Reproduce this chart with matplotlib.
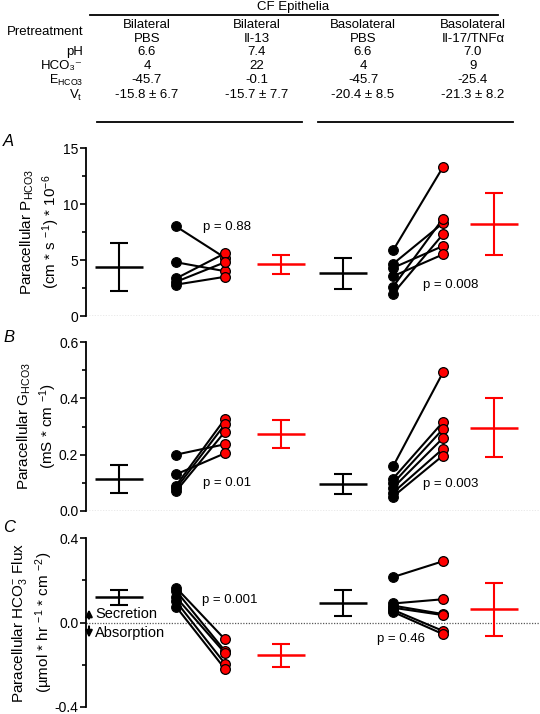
import matplotlib
matplotlib.use("Agg")
import matplotlib.pyplot as plt
from matplotlib.ticker import MultipleLocator

plt.rcParams["font.family"] = ["Liberation Sans", "DejaVu Sans"]
plt.rcParams["mathtext.fontset"] = "custom"
plt.rcParams["mathtext.rm"] = "Liberation Sans"
plt.rcParams["mathtext.it"] = "Liberation Sans:italic"

W, H = 540, 714

# -------------------- data --------------------
conditions = [("Bilateral", "PBS"), ("Bilateral", "Il-13"),
              ("Basolateral", "PBS"), ("Basolateral", "Il-17/TNF\u03b1")]
ph_vals = ["6.6", "7.4", "6.6", "7.0"]
hco3_vals = ["4", "22", "4", "9"]
e_hco3_vals = ["-45.7", "-0.1", "-45.7", "-25.4"]
vt_vals = ["-15.8 \u00b1 6.7", "-15.7 \u00b1 7.7", "-20.4 \u00b1 8.5", "-21.3 \u00b1 8.2"]

# panel A: paracellular P_HCO3
a_means = [4.4, 4.61, 3.81, 8.21]
a_sds = [2.15, 0.86, 1.38, 2.78]
a_pre1 = [8.0, 4.8, 3.35, 3.05, 2.8]
a_post1 = [5.2, 4.0, 5.6, 4.8, 3.5]
a_pre2 = [5.85, 4.65, 4.3, 3.55, 2.6, 2.0]
a_post2 = [13.3, 8.3, 6.25, 5.5, 8.7, 7.3]
a_pvals = ["p = 0.88", "p = 0.008"]

# panel B: paracellular G_HCO3
b_means = [0.114, 0.273, 0.096, 0.295]
b_sds = [0.05, 0.049, 0.037, 0.105]
b_pre1 = [0.2, 0.13, 0.09, 0.08, 0.07]
b_post1 = [0.237, 0.205, 0.327, 0.308, 0.282]
b_pre2 = [0.158, 0.115, 0.098, 0.082, 0.065, 0.051]
b_post2 = [0.492, 0.316, 0.291, 0.259, 0.221, 0.197]
b_pvals = ["p = 0.01", "p = 0.003"]

# panel C: paracellular HCO3- flux
c_means = [0.12, -0.155, 0.094, 0.063]
c_sds = [0.035, 0.054, 0.062, 0.126]
c_pre1 = [0.165, 0.15, 0.12, 0.10, 0.075]
c_post1 = [-0.08, -0.135, -0.145, -0.195, -0.22]
c_pre2 = [0.215, 0.09, 0.08, 0.07, 0.06, 0.05]
c_post2 = [0.29, 0.11, 0.04, 0.035, -0.04, -0.055]
c_pvals = ["p = 0.001", "p = 0.46"]

# -------------------- layout --------------------
AX_L, AX_R = 86, 540
# x slots in pixel units relative to axis left
X_MEAN = [33, 195, 257, 408]
X_PRE = [90, 307]
X_POST = [139, 357]
MEAN_COLORS = ["black", "red", "black", "red"]
FS = 9.5
LFS = 11


def fx(x):
    return x / W


def fy(y):
    return 1 - y / H


def add_axes(top, bottom):
    return fig.add_axes([fx(AX_L), fy(bottom), fx(AX_R) - fx(AX_L), (bottom - top) / H])


def draw_panel(ax, means, sds, pre1, post1, pre2, post2, ylim, major, minor):
    ax.set_xlim(0, AX_R - AX_L)
    ax.set_ylim(*ylim)
    ax.axhline(0, color="0.35", lw=0.9, ls=(0, (1, 1.2)), zorder=0)
    for x, m, s, c in zip(X_MEAN, means, sds, MEAN_COLORS):
        ax.plot([x - 24, x + 24], [m, m], color=c, lw=1.8, solid_capstyle="butt")
        ax.errorbar(x, m, yerr=s, fmt="none", ecolor=c, elinewidth=1.5,
                    capsize=6.5, capthick=1.5)
    for xp, xq, pre, post in [(X_PRE[0], X_POST[0], pre1, post1),
                              (X_PRE[1], X_POST[1], pre2, post2)]:
        for a, b in zip(pre, post):
            ax.plot([xp, xq], [a, b], color="black", lw=1.5, zorder=2)
        ax.plot([xp] * len(pre), pre, "o", color="black", ms=7, mec="black",
                mew=0.8, zorder=3)
        ax.plot([xq] * len(post), post, "o", color="red", ms=7, mec="black",
                mew=0.9, zorder=3)
    for side in ["top", "right", "bottom"]:
        ax.spines[side].set_visible(False)
    ax.spines["left"].set_linewidth(1.3)
    ax.set_xticks([])
    ax.yaxis.set_major_locator(MultipleLocator(major))
    ax.yaxis.set_minor_locator(MultipleLocator(minor))
    ax.tick_params(axis="y", which="major", length=4, width=1.2, labelsize=10, pad=1.5)
    ax.tick_params(axis="y", which="minor", length=3, width=1.2)


def set_ylabel(ax, text, right_px):
    ax.set_ylabel(text, fontsize=LFS, linespacing=1.3)
    ax.yaxis.set_label_coords((right_px - AX_L) / (AX_R - AX_L), 0.5)


fig = plt.figure(figsize=(W / 100, H / 100), dpi=100)

# -------------------- header table --------------------
fig.text(fx(293), fy(7), "CF Epithelia", ha="center", va="center", fontsize=FS)
fig.add_artist(plt.Line2D([fx(90), fx(498)], [fy(15), fy(15)], color="black", lw=1.3))
col_x = [147, 257, 363, 473]
for x, (l1, l2) in zip(col_x, conditions):
    fig.text(fx(x), fy(25), l1, ha="center", va="center", fontsize=FS)
    fig.text(fx(x), fy(39), l2, ha="center", va="center", fontsize=FS)
fig.text(fx(83), fy(32), "Pretreatment", ha="right", va="center", fontsize=FS)
rows = [("pH", ph_vals, 52, FS), ("HCO\u2083\u207b", hco3_vals, 66, FS),
        ("E$_{\\mathregular{HCO3}}$", e_hco3_vals, 80, 9), ("V$_\\mathregular{t}$", vt_vals, 95, FS)]
for label, vals, y, lfs in rows:
    fig.text(fx(83), fy(y), label, ha="right", va="center", fontsize=lfs)
    for x, v in zip(col_x, vals):
        fig.text(fx(x), fy(y), v, ha="center", va="center", fontsize=FS)
fig.add_artist(plt.Line2D([fx(97), fx(302)], [fy(122), fy(122)], color="black", lw=1.3))
fig.add_artist(plt.Line2D([fx(318), fx(513)], [fy(122), fy(122)], color="black", lw=1.3))

# -------------------- panel A --------------------
axA = add_axes(148, 316)
draw_panel(axA, a_means, a_sds, a_pre1, a_post1, a_pre2, a_post2, (0, 15), 5, 2.5)
axA.text(117, 7.97, a_pvals[0], fontsize=FS, va="center", ha="left")
axA.text(337, 2.77, a_pvals[1], fontsize=FS, va="center", ha="left")
set_ylabel(axA, "Paracellular P$_{\\mathregular{HCO3}}$\n(cm * s $^{\\mathregular{-1}}$) * 10$^{\\mathregular{-6}}$", 62)

# -------------------- panel B --------------------
axB = add_axes(342, 511)
draw_panel(axB, b_means, b_sds, b_pre1, b_post1, b_pre2, b_post2, (0, 0.6), 0.2, 0.1)
axB.yaxis.set_major_formatter(lambda v, pos: f"{v:.1f}")
axB.text(117, 0.098, b_pvals[0], fontsize=FS, va="center", ha="left")
axB.text(337, 0.096, b_pvals[1], fontsize=FS, va="center", ha="left")
set_ylabel(axB, "Paracellular G$_{\\mathregular{HCO3}}$\n(mS * cm $^{\\mathregular{-1}}$)", 59)

# -------------------- panel C --------------------
axC = add_axes(538, 707)
draw_panel(axC, c_means, c_sds, c_pre1, c_post1, c_pre2, c_post2, (-0.4, 0.4), 0.4, 0.2)
axC.yaxis.set_major_formatter(lambda v, pos: f"{v:.1f}")
axC.text(116, 0.106, c_pvals[0], fontsize=FS, va="center", ha="left")
axC.text(291, -0.08, c_pvals[1], fontsize=FS, va="center", ha="left")
set_ylabel(axC, "Paracellular HCO$_3^{-}$ Flux\n(\u00b5mol * hr $^{\\mathregular{-1}}$ * cm $^{\\mathregular{-2}}$)", 55)
axC.annotate("", xy=(3, 0.075), xytext=(3, 0.005),
             arrowprops=dict(arrowstyle="-|>", color="black", lw=1.5, mutation_scale=10))
axC.annotate("", xy=(3, -0.085), xytext=(3, -0.005),
             arrowprops=dict(arrowstyle="-|>", color="black", lw=1.5, mutation_scale=10))
axC.text(9, 0.038, "Secretion", fontsize=10.5, va="center", ha="left")
axC.text(9, -0.048, "Absorption", fontsize=10.5, va="center", ha="left")

for letter, y in [("A", 141), ("B", 337), ("C", 527)]:
    fig.text(fx(3), fy(y), letter, fontsize=12, style="italic", va="center", ha="left")

fig.savefig("out.png", dpi=100)
